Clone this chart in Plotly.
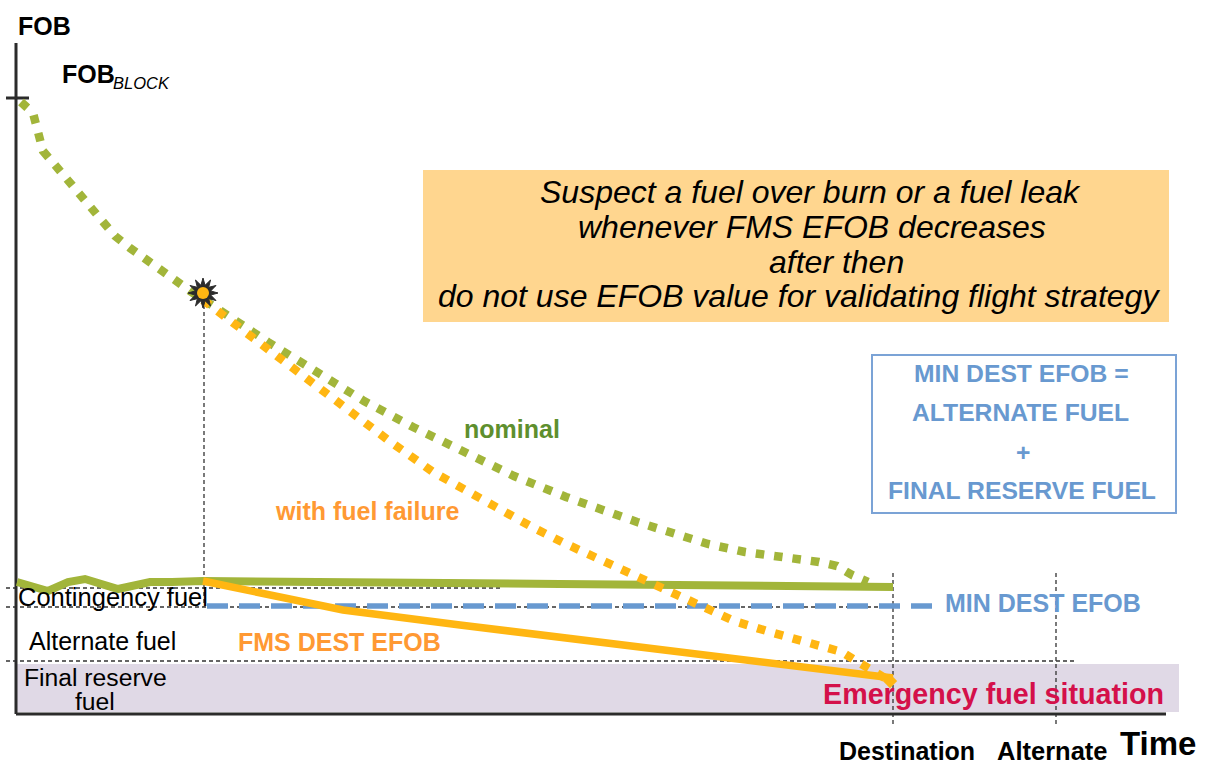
import math
import plotly.graph_objects as go

# everything in pixel units (y grows downwards)
nominal_x = [21, 33, 38, 43, 55, 67, 79, 91, 103, 115, 130, 145, 160, 175, 190, 203, 221, 268, 316, 364, 413, 463, 514, 566, 637, 708, 745, 819, 837, 852, 868]
nominal_y = [102, 113, 132, 151, 165, 179, 193, 208, 222, 236, 248, 258, 269, 280, 291, 300, 311, 342, 372, 401, 427, 452, 476, 497, 522, 544, 552, 562, 566, 575, 582]

failure_x = [203, 224, 283, 328, 388, 433, 482, 532, 564, 649, 700, 734, 770, 824, 842, 858, 875, 890]
failure_y = [300, 316, 361, 395, 440, 472, 500, 527, 543, 583, 606, 621, 632, 646, 652, 662, 672, 681]

planned_x = [17, 48, 68, 85, 118, 150, 172, 203, 560, 893]
planned_y = [582, 591, 582, 579, 589, 582, 582, 581, 584, 587]

fms_x = [203, 343, 460, 560, 893]
fms_y = [581, 610, 625, 637, 678]

min_dest_x = [207, 932]
min_dest_y = [606, 606]

EVENT = (203, 293)

GREEN = '#A2B53A'
ORANGE = '#FFB612'
BLUE = '#6899D0'
DARK = '#2B2B2B'
GREY = '#333333'

AXES = [([16, 16], [43, 714]), ([16, 1166], [714, 714]), ([6, 29], [98, 98])]
GUIDES = [
    ([6, 500], [588, 588]),
    ([6, 893], [607, 607]),
    ([6, 1076], [661, 661]),
    ([204, 204], [305, 607]),
    ([893, 893], [573, 727]),
    ([1056, 1056], [573, 727]),
]

# text, x centre, y centre, size, colour, bold, italic
LABELS = [
    ('FOB', 44, 26, 25, 'black', True, False),
    ('Suspect a fuel over burn or a fuel leak', 810, 192, 32, 'black', False, True),
    ('whenever FMS EFOB decreases', 812, 227, 32, 'black', False, True),
    ('after then', 836, 262, 32, 'black', False, True),
    ('do not use EFOB value for validating flight strategy', 799, 296, 32, 'black', False, True),
    ('MIN DEST EFOB =', 1021, 373, 24.7, BLUE, True, False),
    ('ALTERNATE FUEL', 1020, 412, 24.7, BLUE, True, False),
    ('+', 1023, 452, 24.7, BLUE, True, False),
    ('FINAL RESERVE FUEL', 1022, 490, 24.7, BLUE, True, False),
    ('nominal', 512, 429, 25, '#5E8F2E', True, False),
    ('with fuel failure', 367, 511, 25, '#FF9933', True, False),
    ('FMS DEST EFOB', 339, 642, 25, '#FF9933', True, False),
    ('MIN DEST EFOB', 1043, 603, 25, BLUE, True, False),
    ('Emergency fuel situation', 993, 694, 28.7, '#D4104A', True, False),
    ('Contingency fuel', 113, 597, 25.5, 'black', False, False),
    ('Alternate fuel', 102, 641, 25, 'black', False, False),
    ('Final reserve', 95, 677, 24.7, 'black', False, False),
    ('fuel', 95, 701, 24.7, 'black', False, False),
    ('Destination', 907, 751, 25, 'black', True, False),
    ('Alternate', 1052, 751, 25.5, 'black', True, False),
    ('Time', 1158, 743, 33, 'black', True, False),
]


def line_trace(xs, ys, color, width, dash='solid'):
    return go.Scatter(x=xs, y=ys, mode='lines', hoverinfo='skip',
                      line=dict(color=color, width=width, dash=dash))


fig = go.Figure()

fig.add_shape(type='rect', x0=17, x1=1179, y0=664, y1=712, fillcolor='#E0D9E6', line_width=0, layer='below')
fig.add_shape(type='rect', x0=423, x1=1169, y0=170, y1=322, fillcolor='#FFD68F', line_width=0, layer='below')
fig.add_shape(type='rect', x0=872, x1=1176, y0=355, y1=513, line=dict(color='#7BA3D6', width=2), layer='below')

for xs, ys in GUIDES:
    fig.add_trace(line_trace(xs, ys, GREY, 1.3, '4px,3px'))
for xs, ys in AXES:
    fig.add_trace(line_trace(xs, ys, DARK, 3))

fig.add_trace(line_trace(min_dest_x, min_dest_y, BLUE, 5.5, '21px,11px'))
fig.add_trace(line_trace(planned_x, planned_y, GREEN, 8))
fig.add_trace(line_trace(fms_x, fms_y, ORANGE, 7.5))
fig.add_trace(line_trace(nominal_x, nominal_y, GREEN, 8.5, '8.5px,10px'))
fig.add_trace(line_trace(failure_x, failure_y, ORANGE, 8.5, '8.5px,10px'))

# pointed end where both orange lines meet at destination
fig.add_trace(go.Scatter(x=failure_x[-1:], y=failure_y[-1:], mode='markers', hoverinfo='skip',
                         marker=dict(color=ORANGE, size=11, symbol='diamond')))

# the little burst where the failure starts
burst_x, burst_y = [], []
for i in range(25):
    r = 15 if i % 2 == 0 else 8
    a = math.pi * i / 12
    burst_x.append(EVENT[0] + r * math.cos(a))
    burst_y.append(EVENT[1] + r * math.sin(a))
fig.add_trace(go.Scatter(x=burst_x, y=burst_y, mode='lines', fill='toself', fillcolor=DARK,
                         line=dict(color=DARK, width=1), hoverinfo='skip'))
fig.add_trace(go.Scatter(x=[EVENT[0]], y=[EVENT[1]], mode='markers', hoverinfo='skip',
                         marker=dict(color=ORANGE, size=12, symbol='circle')))

for text, x, y, size, color, bold, italic in LABELS:
    if bold:
        text = f'<b>{text}</b>'
    if italic:
        text = f'<i>{text}</i>'
    fig.add_annotation(x=x, y=y, text=text, showarrow=False, xanchor='center', yanchor='middle',
                       font=dict(size=size, color=color))

fig.add_annotation(x=60, y=74, text='<b>FOB</b>', showarrow=False, xanchor='left', yanchor='middle',
                   font=dict(size=25, color='black'))
fig.add_annotation(x=111, y=83, text='<i>BLOCK</i>', showarrow=False, xanchor='left', yanchor='middle',
                   font=dict(size=16.5, color='black'))

fig.update_layout(
    width=1205,
    height=764,
    margin=dict(l=0, r=0, t=0, b=0),
    paper_bgcolor='white',
    plot_bgcolor='white',
    showlegend=False,
    font=dict(family='Liberation Sans, Arial, sans-serif'),
    xaxis=dict(range=[0, 1205], visible=False, fixedrange=True),
    yaxis=dict(range=[764, 0], visible=False, fixedrange=True),
)

fig.write_html('out.html', config=dict(displayModeBar=False), post_script="document.body.style.margin='0';")
